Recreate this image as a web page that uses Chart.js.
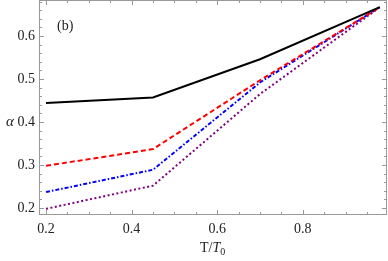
<!DOCTYPE html>
<html><head><meta charset="utf-8">
<script src="https://cdn.jsdelivr.net/npm/chart.js@4/dist/chart.umd.min.js"></script>
<style>html,body{margin:0;padding:0;background:#fff}#w{width:388px;height:261px}</style>
</head><body><div id="w"><canvas id="c"></canvas></div>
<script>
const xValues = [0.2, 0.45, 0.7, 0.98];
const blackSeries = [0.444, 0.457, 0.546, 0.667];
const redSeries = [0.298, 0.337, 0.497, 0.667];
const blueSeries = [0.237, 0.289, 0.492, 0.667];
const purpleSeries = [0.198, 0.252, 0.465, 0.667];
const xTickValues = [0.2, 0.4, 0.6, 0.8];
const xTickLabels = ['0.2', '0.4', '0.6', '0.8'];
const yTickValues = [0.2, 0.3, 0.4, 0.5, 0.6];
const yTickLabels = ['0.2', '0.3', '0.4', '0.5', '0.6'];
const panelLabel = '(b)';
const xTitle = ['T/', 'T', '0'];
const yTitle = 'α';

const FONT = '"Liberation Serif", "DejaVu Serif", serif';
const pts = ys => xValues.map((x, i) => ({x, y: ys[i]}));
const ds = (data, color, dash) => ({data: pts(data), borderColor: color, borderWidth: 2, borderDash: dash, pointRadius: 0, showLine: true, fill: false, tension: 0});

const frameTicks = {
  id: 'frameTicks',
  afterDraw(chart) {
    const {ctx, chartArea: a, scales: {x, y}} = chart;
    ctx.save();
    ctx.strokeStyle = '#999';
    ctx.lineWidth = 1;
    ctx.beginPath();
    for (let v = 0.2; v < 1.0; v += 0.05) {
      const major = Math.abs(v * 5 - Math.round(v * 5)) < 1e-6;
      const len = major ? 5 : 3;
      const px = Math.round(x.getPixelForValue(v)) + 0.5;
      if (px < a.left || px > a.right) continue;
      ctx.moveTo(px, a.bottom); ctx.lineTo(px, a.bottom - len);
      ctx.moveTo(px, a.top); ctx.lineTo(px, a.top + len);
    }
    for (let v = 0.18; v < 0.70; v += 0.02) {
      const major = Math.abs(v * 10 - Math.round(v * 10)) < 1e-6;
      const len = major ? 5 : 3;
      const py = Math.round(y.getPixelForValue(v)) + 0.5;
      if (py < a.top || py > a.bottom) continue;
      ctx.moveTo(a.left, py); ctx.lineTo(a.left + len, py);
      ctx.moveTo(a.right, py); ctx.lineTo(a.right - len, py);
    }
    ctx.stroke();
    ctx.strokeRect(a.left + 0.5, a.top + 0.5, a.right - a.left - 1, a.bottom - a.top - 1);
    ctx.fillStyle = '#222';
    ctx.textBaseline = 'alphabetic';
    ctx.font = '14px ' + FONT;
    ctx.fillText(panelLabel, 57, 30);
    ctx.font = 'italic 15px ' + FONT;
    ctx.textAlign = 'center';
    ctx.fillText(yTitle, 10, 126);
    ctx.textAlign = 'left';
    ctx.font = '14px ' + FONT;
    let tx = 200;
    const ty = 252;
    ctx.fillText(xTitle[0], tx, ty);
    tx += ctx.measureText(xTitle[0]).width;
    ctx.font = 'italic 14px ' + FONT;
    ctx.fillText(xTitle[1], tx, ty);
    tx += ctx.measureText(xTitle[1]).width;
    ctx.font = '10px ' + FONT;
    ctx.fillText(xTitle[2], tx, ty + 3);
    ctx.restore();
  }
};

new Chart(document.getElementById('c'), {
  type: 'scatter',
  data: {datasets: [
    ds(blackSeries, '#000000', []),
    ds(redSeries, '#ff0000', [5, 3]),
    ds(blueSeries, '#0000ff', [4, 2, 1.5, 2]),
    ds(purpleSeries, '#800080', [2, 2.5])
  ]},
  options: {
    responsive: true, maintainAspectRatio: false, animation: false,
    layout: {padding: {top: 0, right: 1, left: 0, bottom: 0}},
    plugins: {legend: {display: false}, tooltip: {enabled: false}},
    scales: {
      x: {
        type: 'linear', min: 0.1836, max: 0.9967,
        grid: {display: false, drawTicks: false},
        border: {display: false},
        afterBuildTicks: s => { s.ticks = xTickValues.map(v => ({value: v})); },
        afterFit: s => { s.height = 46; s.paddingLeft = 0; s.paddingRight = 0; },
        ticks: {padding: 6, color: '#222', font: {family: FONT, size: 14},
          callback: (v) => xTickLabels[xTickValues.findIndex(t => Math.abs(t - v) < 1e-6)]}
      },
      y: {
        type: 'linear', min: 0.1837, max: 0.6837,
        grid: {display: false, drawTicks: false},
        border: {display: false},
        afterBuildTicks: s => { s.ticks = yTickValues.map(v => ({value: v})); },
        afterFit: s => { s.width = 39; s.paddingTop = 0; s.paddingBottom = 0; },
        ticks: {padding: 4, color: '#222', font: {family: FONT, size: 14},
          callback: (v) => yTickLabels[yTickValues.findIndex(t => Math.abs(t - v) < 1e-6)]}
      }
    }
  },
  plugins: [frameTicks]
});
</script>
</body></html>
